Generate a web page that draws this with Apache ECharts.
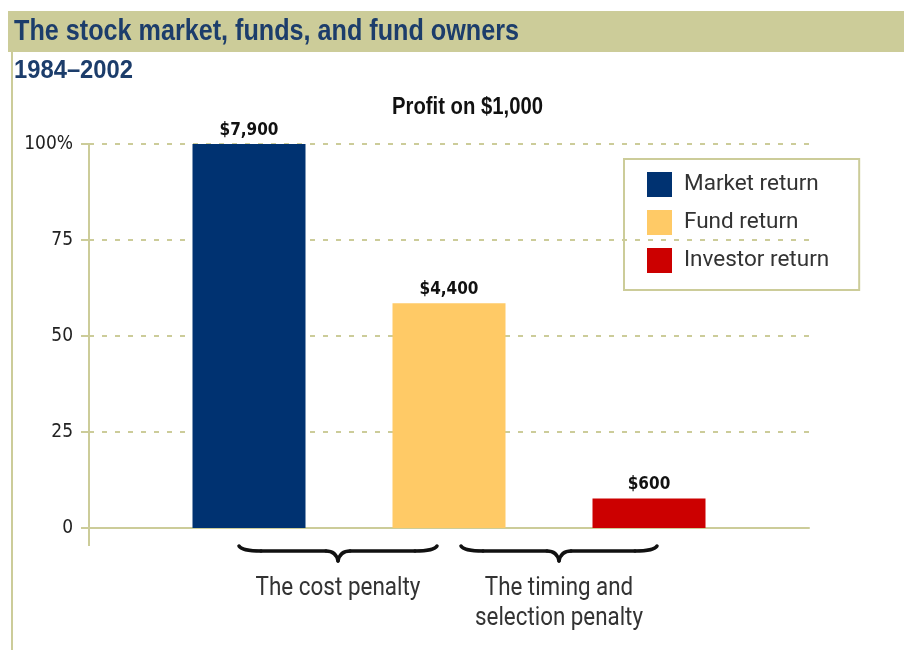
<!DOCTYPE html>
<html>
<head>
<meta charset="utf-8">
<script src="https://cdn.jsdelivr.net/npm/echarts@6/dist/echarts.min.js"></script>
<style>
    html, body { margin: 0; padding: 0; background: #fff; }
    #chart { width: 904px; height: 650px; }
</style>
</head>
<body>
<div id="chart"></div>
<script>
// series names (legend) and their bar values, % of market profit
const seriesNames = ['Market return', 'Fund return', 'Investor return']
const seriesValues = [100, 58.5, 7.7]
// where each bar sits along the x axis
const barPositions = [1, 2, 3]
// dollar labels on top of the bars
const profitLabels = ['$7,900', '$4,400', '$600']
const seriesColors = ['#003271', '#ffca66', '#cc0000']
// braces under the bars and their captions
const braceSpans = [[0.95, 1.94], [2.06, 3.04]]
const braceCaptions = [['The cost penalty'], ['The timing and', 'selection penalty']]

const olive = '#cccc99'
const narrow = "'DejaVu Sans Condensed', 'Liberation Sans Narrow', sans-serif"
const plain = 'Roboto, sans-serif'

let chart = echarts.init(document.getElementById('chart'))

let series = seriesNames.map((name, i) => {
    return {
        name: name,
        type: 'bar',
        barWidth: 113,
        barGap: '-100%',
        itemStyle: { color: seriesColors[i] },
        label: {
            show: true,
            position: 'top',
            distance: 5,
            formatter: () => profitLabels[i],
            color: '#111',
            fontFamily: narrow,
            fontWeight: 'bold',
            fontSize: 17
        },
        data: [[barPositions[i], seriesValues[i]]]
    }
})

chart.setOption({
    animation: false,
    grid: {
        left: 89,
        top: 144,
        width: 720,
        height: 384
    },
    legend: {
        orient: 'vertical',
        left: 624,
        top: 159,
        padding: [13, 30, 17, 23],
        itemWidth: 25,
        itemHeight: 25,
        itemGap: 13,
        icon: 'rect',
        borderColor: olive,
        borderWidth: 2,
        textStyle: {
            fontFamily: plain,
            fontSize: 22.5,
            color: '#333',
            padding: [0, 0, 0, 7]
        },
        data: seriesNames
    },
    xAxis: {
        type: 'value',
        min: 0.2,
        max: 3.8,
        axisLine: { show: true, lineStyle: { color: olive, width: 2 } },
        axisTick: { show: false },
        axisLabel: { show: false },
        splitLine: { show: false }
    },
    yAxis: {
        type: 'value',
        min: 0,
        max: 100,
        interval: 25,
        axisLine: { show: true, lineStyle: { color: olive, width: 2 } },
        axisTick: { show: true, length: 8, lineStyle: { color: olive, width: 2 } },
        axisLabel: {
            margin: 16,
            color: '#222',
            fontFamily: narrow,
            fontSize: 19,
            formatter: v => (v === 100 ? v + '%' : String(v))
        },
        splitLine: { show: true, lineStyle: { color: olive, width: 2, type: [5, 8] } }
    },
    series: series
})

// squeeze text to the width it has in the picture (the original face is condensed)
const ctx = document.createElement('canvas').getContext('2d')
function squeezed(lines, font, width) {
    ctx.font = font
    let w = Math.max(...lines.map(l => ctx.measureText(l).width))
    return width / w
}

function fitText(text, x, y, font, width, fill, align) {
    return {
        type: 'text',
        x: x,
        y: y,
        scaleX: squeezed([text], font, width),
        style: { x: 0, y: 0, text: text, font: font, fill: fill, textAlign: align, textVerticalAlign: 'middle' }
    }
}

let graphics = [
    { type: 'rect', z: -1, shape: { x: 8, y: 11, width: 896, height: 41 }, style: { fill: olive } },
    { type: 'rect', z: -1, shape: { x: 11, y: 52, width: 2, height: 598 }, style: { fill: olive } },
    { type: 'line', shape: { x1: 89, y1: 528, x2: 89, y2: 546 }, style: { stroke: olive, lineWidth: 2 } },
    fitText('The stock market, funds, and fund owners', 14, 32, "bold 29px 'Liberation Sans', sans-serif", 505, '#1c3d6b', 'left'),
    fitText('1984–2002', 14, 71, "bold 25px 'Liberation Sans', sans-serif", 119, '#1c3d6b', 'left'),
    fitText('Profit on $1,000', 467.5, 107, "bold 24px 'Liberation Sans', sans-serif", 151, '#111', 'center')
]

// brace: two curled ends, flat body, a point in the middle
function braceParts(x0, x1, y) {
    let xm = (x0 + x1) / 2
    let b = y + 5
    let t = y + 15
    let st = { stroke: '#111', lineWidth: 3.5, fill: null, lineCap: 'round' }
    return [
        { type: 'bezierCurve', shape: { x1: x0, y1: y, cpx1: x0 + 3, cpy1: b, x2: x0 + 22, y2: b }, style: st },
        { type: 'line', shape: { x1: x0 + 22, y1: b, x2: xm - 12, y2: b }, style: st },
        { type: 'bezierCurve', shape: { x1: xm - 12, y1: b, cpx1: xm - 2, cpy1: b, x2: xm, y2: t }, style: st },
        { type: 'bezierCurve', shape: { x1: xm, y1: t, cpx1: xm + 2, cpy1: b, x2: xm + 12, y2: b }, style: st },
        { type: 'line', shape: { x1: xm + 12, y1: b, x2: x1 - 22, y2: b }, style: st },
        { type: 'bezierCurve', shape: { x1: x1 - 22, y1: b, cpx1: x1 - 3, cpy1: b, x2: x1, y2: y }, style: st }
    ]
}

const captionWidths = [165, 168]
braceSpans.forEach((span, i) => {
    let x0 = chart.convertToPixel({ xAxisIndex: 0 }, span[0])
    let x1 = chart.convertToPixel({ xAxisIndex: 0 }, span[1])
    graphics.push(...braceParts(x0, x1, 546))
    let font = '25px ' + plain
    let sx = squeezed(braceCaptions[i], font, captionWidths[i])
    braceCaptions[i].forEach((line, k) => {
        graphics.push({
            type: 'text',
            x: (x0 + x1) / 2,
            y: 589 + k * 30,
            scaleX: sx,
            style: { x: 0, y: 0, text: line, font: font, fill: '#333', textAlign: 'center', textVerticalAlign: 'middle' }
        })
    })
})

chart.setOption({ graphic: graphics })
</script>
</body>
</html>
